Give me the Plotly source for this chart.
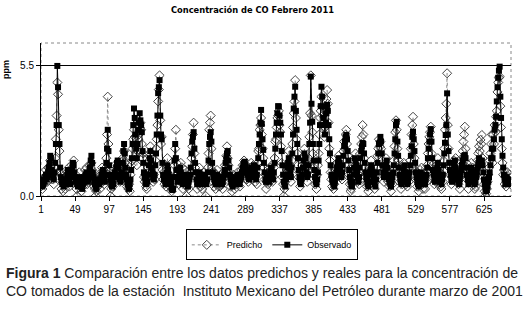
import plotly.graph_objects as go

# Hourly CO concentration (ppm)
observado = [
    0.6,0.5,0.4,0.5,0.7,0.6,0.8,0.9,0.7,0.8,1.0,1.2,
    1.4,1.7,1.6,1.1,0.9,0.8,0.7,1.0,1.4,2.2,3.0,5.5,4.6,3.0,2.2,1.2,0.8,0.6,0.5,0.6,0.4,0.7,0.5,0.6,
    0.7,0.9,1.1,0.8,0.6,0.5,0.8,1.0,1.2,1.4,1.3,1.0,0.8,0.6,0.7,0.5,0.4,0.6,0.8,0.7,0.5,0.4,0.3,0.5,
    0.6,0.8,0.7,0.9,1.0,0.8,0.6,0.7,0.9,1.2,1.5,1.7,1.4,1.0,0.8,0.6,0.5,0.4,0.3,0.5,0.6,0.7,0.5,0.6,
    0.7,0.9,0.8,1.1,1.0,0.8,0.6,0.9,1.4,2.0,2.8,1.9,1.3,0.9,0.7,0.5,0.4,0.6,0.5,0.8,1.0,0.9,1.2,1.4,
    1.5,1.2,0.9,0.7,0.6,0.8,1.0,1.4,1.9,2.2,1.8,1.2,0.9,0.7,0.5,0.4,0.3,0.5,0.7,1.1,1.6,2.2,3.0,3.7,
    3.3,2.6,2.0,1.6,2.2,2.8,3.1,3.5,3.2,3.0,2.7,1.9,1.4,1.0,0.8,0.6,0.5,0.7,0.6,0.9,1.3,1.6,1.9,1.5,
    1.2,1.0,0.8,0.7,0.9,1.3,1.8,2.6,3.4,4.35,4.6,4.9,3.4,2.6,2.4,1.4,0.9,0.7,0.8,0.6,0.5,1.0,1.3,1.1,
    0.9,0.7,0.6,0.5,0.3,0.25,0.3,0.8,1.5,2.2,1.6,1.1,0.8,0.6,0.7,0.9,1.2,1.0,0.8,0.6,0.5,0.7,0.9,0.8,
    0.8,0.6,0.5,0.4,0.6,0.7,0.9,1.2,1.8,2.3,2.5,2.7,2.0,1.4,1.0,0.7,0.5,0.6,0.8,1.0,0.9,0.7,0.6,0.5,
    0.6,0.7,0.9,0.8,0.6,0.5,0.7,1.0,1.5,2.2,2.5,2.7,2.3,1.4,1.0,0.8,0.7,0.6,0.5,0.7,0.9,0.8,0.6,0.5,
    0.6,0.8,0.7,0.5,0.6,0.8,0.9,1.1,1.4,1.6,1.8,1.9,1.5,1.2,0.9,0.7,0.6,0.5,0.4,0.6,0.8,0.7,0.6,0.5,
    0.7,0.9,0.8,0.6,0.5,0.7,0.8,1.0,1.2,1.3,1.4,1.45,1.3,1.1,1.0,0.9,0.8,0.7,0.9,1.1,1.2,1.0,0.8,1.1,
    1.3,1.0,0.8,0.7,0.9,1.2,1.6,2.2,2.6,3.1,3.64,3.05,2.4,1.95,1.4,1.0,0.7,0.6,0.8,0.9,0.7,0.6,0.8,1.0,
    1.2,1.0,0.8,0.7,1.0,1.4,2.0,2.6,3.1,3.5,3.8,3.78,3.4,3.1,2.6,1.9,1.3,0.9,0.6,0.5,0.4,0.7,0.9,1.2,
    1.4,1.6,1.3,1.0,0.8,1.2,1.8,2.6,3.7,4.2,4.62,3.6,2.8,2.2,1.6,1.1,0.8,0.6,0.5,0.7,0.9,1.2,1.5,1.8,
    1.6,1.3,1.0,0.8,0.9,1.3,2.2,3.1,5.05,3.9,3.14,2.2,1.5,1.1,0.8,0.6,0.5,0.7,1.0,1.5,2.2,3.0,3.8,4.62,
    4.2,3.78,3.3,3.0,2.6,3.1,3.5,3.85,3.6,3.0,2.4,1.8,1.3,0.9,0.7,0.6,0.5,0.4,0.6,0.8,1.0,1.2,1.4,1.6,
    1.4,1.1,0.9,0.8,1.0,1.3,1.7,2.1,2.3,2.5,2.58,2.4,1.9,1.5,1.1,0.8,0.6,0.5,0.4,0.6,0.9,1.2,1.6,1.5,
    1.3,1.0,0.8,0.6,0.8,1.2,1.6,1.9,2.1,2.24,2.2,1.8,1.4,1.0,0.8,0.7,0.5,0.4,0.6,0.9,1.1,1.3,1.2,1.0,
    0.8,0.6,0.5,0.4,0.7,1.0,1.4,1.8,2.2,2.25,2.5,2.3,1.8,1.3,1.0,0.8,0.9,1.1,1.3,1.5,1.2,0.9,0.7,0.6,
    0.5,0.4,0.6,0.8,1.0,1.3,1.8,2.4,3.0,3.14,2.3,1.7,1.2,0.9,0.7,0.6,0.5,0.7,0.9,1.1,1.3,1.0,0.8,0.6,
    0.5,0.6,0.8,1.0,1.3,1.7,2.1,2.5,2.72,2.4,1.9,1.4,1.0,0.8,0.6,0.5,0.4,0.6,0.8,1.0,0.9,0.7,0.6,0.5,
    0.6,0.5,0.7,0.9,1.2,1.6,2.0,2.3,2.6,2.83,2.3,1.6,1.1,0.9,0.7,0.6,0.8,1.0,1.2,1.4,1.1,0.9,0.7,0.6,
    0.5,0.7,0.9,1.3,1.8,2.25,2.58,3.0,4.34,2.6,1.9,1.4,1.1,0.9,0.7,0.6,0.8,1.0,1.3,1.5,1.2,1.0,0.8,0.7,
    0.6,0.5,0.7,0.9,1.1,1.3,1.5,1.6,1.7,1.73,1.6,1.2,0.9,0.7,0.5,0.6,0.8,1.0,1.2,1.1,0.9,0.7,0.6,0.5,
    0.6,0.8,1.0,1.2,1.4,1.6,1.5,1.3,1.4,1.5,1.3,1.0,0.7,0.5,0.3,0.2,0.25,0.4,0.6,0.8,1.0,1.3,1.6,2.0,
    1.6,2.0,2.4,2.8,3.0,3.35,4.0,4.6,5.0,5.3,5.47,4.2,3.3,2.4,1.7,1.2,0.9,0.7,0.5,0.6,0.8,0.7,0.5,0.6,
    0.7,0.6,
]

predicho = [
    0.4,0.6,0.3,0.7,0.5,0.8,0.6,1.1,0.9,0.6,1.2,1.0,
    1.2,1.5,1.3,1.0,0.7,0.9,0.5,1.2,1.6,2.4,3.4,4.8,4.3,2.8,1.9,1.1,0.9,0.3,0.6,0.2,0.5,0.8,0.3,0.7,
    0.5,1.0,0.9,1.2,0.4,0.7,0.6,1.3,1.0,1.1,1.5,0.8,0.6,0.9,0.3,0.0,0.5,0.7,1.0,0.4,0.6,0.2,0.5,0.4,
    0.8,0.6,1.1,0.7,1.2,0.5,0.9,0.6,1.0,1.3,1.2,1.4,1.1,0.7,0.9,0.4,0.3,0.0,0.2,0.6,0.4,0.9,0.7,0.3,
    0.9,0.7,1.2,0.6,1.1,0.5,0.8,1.0,1.6,2.6,4.2,2.2,1.0,0.7,0.0,0.3,0.6,0.4,0.7,0.9,1.3,0.8,1.1,1.2,
    1.3,1.0,1.1,0.6,0.9,1.2,0.8,1.6,1.5,1.9,1.4,0.9,1.2,0.4,0.6,0.3,0.5,0.2,0.9,1.3,1.5,2.0,2.4,2.8,
    2.5,2.1,1.7,1.3,1.9,2.4,2.6,2.9,3.1,2.8,2.2,1.6,1.8,0.8,0.6,0.9,0.4,0.3,0.8,1.2,1.0,1.8,2.1,1.4,
    1.0,1.3,0.6,0.9,0.7,1.5,2.0,2.4,3.0,4.0,4.5,5.1,3.2,2.2,2.5,1.1,0.7,1.0,0.5,0.8,0.4,0.9,1.6,0.8,
    0.7,0.9,0.4,0.6,0.2,0.5,0.4,0.6,1.3,2.0,2.8,1.4,0.9,1.1,0.5,0.8,0.6,1.4,0.9,1.2,0.3,0.7,0.5,1.1,
    0.6,0.0,0.4,0.7,0.3,0.9,1.1,1.0,1.6,2.1,2.6,3.1,1.8,1.2,0.8,0.9,0.3,0.7,0.5,1.2,0.6,0.4,0.9,0.3,
    0.8,0.5,1.0,0.6,0.0,0.7,0.9,1.2,1.8,2.8,3.1,3.4,2.0,1.1,0.6,1.0,0.4,0.8,0.3,0.6,1.1,0.7,0.4,0.8,
    0.4,0.9,0.5,0.7,0.3,1.0,0.8,1.3,1.2,1.7,2.1,1.6,1.3,0.9,0.6,0.4,0.8,0.2,0.5,0.9,0.6,0.3,0.8,0.6,
    0.5,1.0,0.6,0.8,0.4,0.9,1.1,0.8,1.3,1.0,1.5,1.2,1.0,1.3,0.7,1.1,0.6,0.9,1.2,0.8,1.4,0.7,1.1,1.3,
    1.0,1.2,0.6,0.9,0.5,1.4,1.9,2.0,2.8,3.0,3.3,2.6,2.0,1.6,1.2,0.7,0.9,0.3,0.6,1.1,0.5,0.9,0.6,1.2,
    0.9,1.3,0.6,0.8,1.2,1.6,2.3,2.4,2.9,3.3,3.4,3.6,3.0,2.7,2.1,1.4,0.8,0.5,0.0,0.3,0.6,0.8,1.1,1.0,
    1.1,1.9,1.0,1.3,0.6,1.5,2.2,2.9,3.5,4.0,4.9,3.3,2.4,1.8,1.3,0.8,1.0,0.4,0.7,0.9,1.3,1.0,1.7,2.0,
    1.3,1.0,1.2,0.6,1.1,1.6,2.5,3.5,5.1,3.4,2.7,1.8,1.2,0.9,0.5,0.8,0.3,0.9,1.3,1.8,2.6,3.3,3.6,4.2,
    3.8,3.4,2.9,2.5,2.9,3.6,4.1,4.48,3.9,3.1,2.0,1.5,1.0,0.7,0.4,0.8,0.3,0.5,0.7,1.1,0.9,1.4,1.2,1.7,
    1.2,1.4,0.8,1.1,0.7,1.5,1.9,2.3,2.0,2.6,2.8,2.2,1.7,1.1,0.9,0.5,0.2,0.3,0.6,0.9,1.1,1.5,1.3,1.8,
    1.0,1.3,0.6,0.9,0.5,1.4,1.8,2.2,2.5,3.0,2.6,1.6,1.2,0.8,1.0,0.4,0.6,0.2,0.8,1.2,0.9,1.5,1.1,0.7,
    0.6,0.9,0.3,0.6,0.8,1.2,1.7,2.0,2.4,2.1,2.3,2.0,1.5,1.0,1.3,0.6,1.1,0.8,1.6,1.2,1.0,0.6,0.9,0.4,
    0.7,0.2,0.9,0.5,1.1,1.5,2.1,2.7,3.2,2.8,2.0,1.3,1.5,0.6,0.9,0.3,0.8,0.5,1.2,1.4,0.9,1.2,0.5,0.8,
    0.4,0.8,0.6,1.2,1.5,2.0,2.6,3.0,3.35,2.2,1.6,1.1,0.7,1.0,0.4,0.7,0.2,0.5,1.1,0.8,1.2,0.5,0.3,0.7,
    0.8,0.3,0.9,0.6,1.3,1.8,2.2,2.5,2.7,2.93,1.8,1.3,0.8,1.1,0.5,0.9,0.6,1.3,1.0,1.6,0.8,0.5,1.0,0.4,
    0.3,0.9,0.6,1.5,2.0,2.8,3.3,3.9,5.19,3.0,2.0,1.2,0.9,1.3,0.5,0.8,1.1,0.7,1.5,1.2,1.6,0.9,0.6,1.0,
    0.5,0.8,0.3,1.0,1.3,1.6,1.9,2.3,2.6,2.93,2.0,1.4,0.7,1.0,0.3,0.8,1.1,0.6,1.4,0.9,1.2,0.5,0.8,0.3,
    0.4,0.9,1.2,1.5,1.8,2.1,1.9,2.37,2.2,2.58,1.6,0.8,0.5,0.2,0.0,0.1,0.3,0.6,0.9,1.2,1.5,1.8,2.2,2.6,
    1.4,2.6,2.2,3.0,2.7,3.35,3.6,4.4,4.8,5.0,5.05,3.8,2.9,2.0,1.4,0.9,1.1,0.5,0.8,0.4,0.7,1.0,0.6,0.8,
    0.9,0.5,
]

x_ticks = [1, 49, 97, 145, 193, 241, 289, 337, 385, 433, 481, 529, 577, 625]
y_ticks = [0.0, 5.5]
y_tick_labels = ["0.0", "5.5"]

title_text = "Concentración de CO Febrero 2011"
y_title = "ppm"
caption_1 = "<b>Figura 1</b> Comparación entre los datos predichos y reales para la concentración de"
caption_2 = "CO tomados de la estación  Instituto Mexicano del Petróleo durante marzo de 2001"

x_obs = list(range(1, len(observado) + 1))
x_pred = list(range(1, len(predicho) + 1))

fig = go.Figure()
fig.add_trace(go.Scatter(
    x=x_pred, y=predicho, name="Predicho", mode="lines+markers",
    line=dict(color="#8a8a8a", width=1, dash="dot"),
    marker=dict(symbol="diamond-open", size=7, color="#444444", line=dict(width=1)),
))
fig.add_trace(go.Scatter(
    x=x_obs, y=observado, name="Observado", mode="lines+markers",
    line=dict(color="black", width=1),
    marker=dict(symbol="square", size=6, color="black"),
))

fig.update_layout(
    width=524, height=317,
    margin=dict(l=41, r=13, t=43, b=121),
    paper_bgcolor="white", plot_bgcolor="white",
    font=dict(family="Liberation Sans, Arial, sans-serif", size=10, color="black"),
    showlegend=True,
    legend=dict(
        orientation="h", x=0.491, xanchor="center", y=-0.218, yanchor="top",
        bordercolor="black", borderwidth=1, bgcolor="white",
        font=dict(size=9), itemwidth=30, tracegroupgap=0,
    ),
    shapes=[dict(type="rect", xref="paper", yref="paper", x0=0, x1=1, y0=0, y1=1,
                 line=dict(color="#888888", width=1, dash="dot"), layer="below")],
    annotations=[
        dict(text="<b>" + title_text + "</b>", xref="paper", yref="paper",
             x=(252 - 41) / 470, y=1 + (43 - 10) / 153, xanchor="center", yanchor="middle",
             showarrow=False, font=dict(size=8.3, family="DejaVu Sans, sans-serif")),
        dict(text="<b>" + y_title + "</b>", xref="paper", yref="paper",
             x=(6 - 41) / 470, y=(196 - 70) / 153, xanchor="center", yanchor="middle",
             textangle=-90, showarrow=False, font=dict(size=9)),
        dict(text=caption_1, xref="paper", yref="paper",
             x=(4 - 41) / 470, y=(196 - 273) / 153, xanchor="left", yanchor="middle",
             showarrow=False, font=dict(size=14, color="#222222")),
        dict(text=caption_2, xref="paper", yref="paper",
             x=(4 - 41) / 470, y=(196 - 291) / 153, xanchor="left", yanchor="middle",
             showarrow=False, font=dict(size=14, color="#222222")),
    ],
)
fig.update_xaxes(
    range=[1, 663], tickvals=x_ticks, ticks="outside", ticklen=4, tickcolor="black",
    showline=True, linecolor="black", linewidth=1, showgrid=False, zeroline=False,
    tickfont=dict(size=10),
)
fig.update_yaxes(
    range=[0, 6.47], tickvals=y_ticks, ticktext=y_tick_labels, ticks="outside", ticklen=4,
    tickcolor="black", showline=True, linecolor="black", linewidth=1,
    showgrid=True, gridcolor="black", gridwidth=1, zeroline=False, tickfont=dict(size=10),
)

fig.write_html("out.html", config={"displayModeBar": False},
               post_script="document.body.style.margin='0';")
